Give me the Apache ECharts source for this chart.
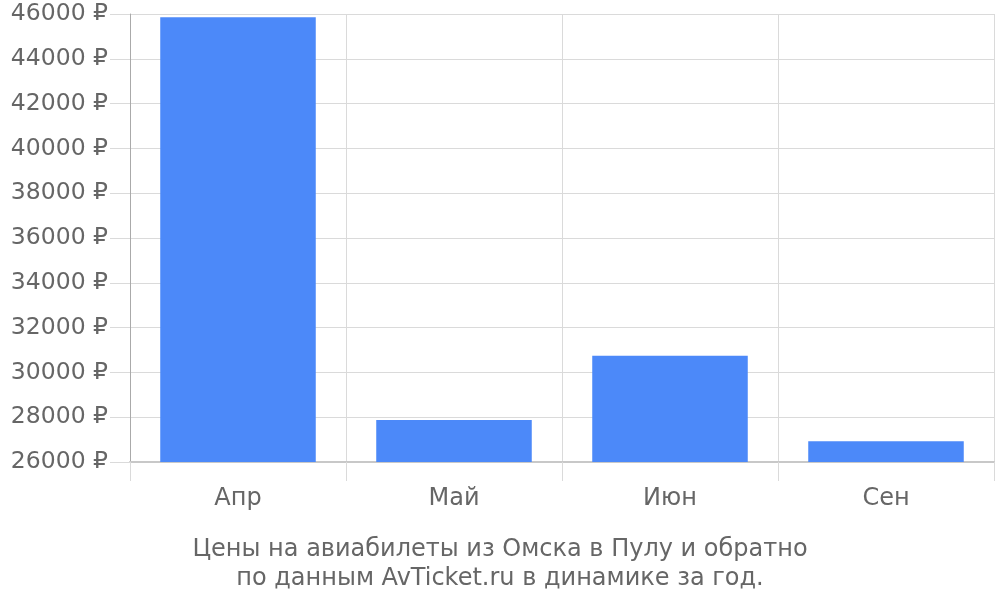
<!DOCTYPE html>
<html><head><meta charset="utf-8">
<script src="https://cdn.jsdelivr.net/npm/echarts@6/dist/echarts.min.js"></script>
<style>html,body{margin:0;padding:0;background:#fff}#c{width:1000px;height:600px}</style>
</head><body><div id="c"></div>
<script>
const categories = ['Апр', 'Май', 'Июн', 'Сен'];
const prices = [45850, 27870, 30740, 26930];
const yMin = 26000, yMax = 46000, yStep = 2000;
const titleLines = ['Цены на авиабилеты из Омска в Пулу и обратно', 'по данным AvTicket.ru в динамике за год.'];

const chart = echarts.init(document.getElementById('c'));
chart.setOption({
  animation: false,
  textStyle: { fontFamily: 'DejaVu Sans' },
  title: {
    text: titleLines.join('\n'),
    left: 'center', top: 530,
    textStyle: { fontFamily: 'DejaVu Sans', fontSize: 24, fontWeight: 'normal', color: '#666', lineHeight: 29 }
  },
  grid: { left: 130, right: 6, top: 14, bottom: 138, containLabel: false },
  xAxis: {
    type: 'category', data: categories,
    axisLine: { lineStyle: { color: '#c8c8c8', width: 2 } },
    axisTick: { show: true, length: 19, lineStyle: { color: '#dadada' } },
    splitLine: { show: true, lineStyle: { color: '#dadada' } },
    axisLabel: { fontFamily: 'DejaVu Sans', fontSize: 24, color: '#666', margin: 25 }
  },
  yAxis: {
    type: 'value', min: yMin, max: yMax, interval: yStep,
    axisLine: { show: true, lineStyle: { color: '#aaa' } },
    axisTick: { show: true, length: 20, lineStyle: { color: '#dadada' } },
    splitLine: { show: true, lineStyle: { color: '#dadada' } },
    axisLabel: { fontFamily: 'DejaVu Sans', fontSize: 23.5, color: '#666', margin: 22,
      formatter: v => v + ' ₽' }
  },
  series: [{
    type: 'bar', data: prices, barCategoryGap: '28%',
    itemStyle: { color: '#4c89f9' }
  }]
});
</script></body></html>
